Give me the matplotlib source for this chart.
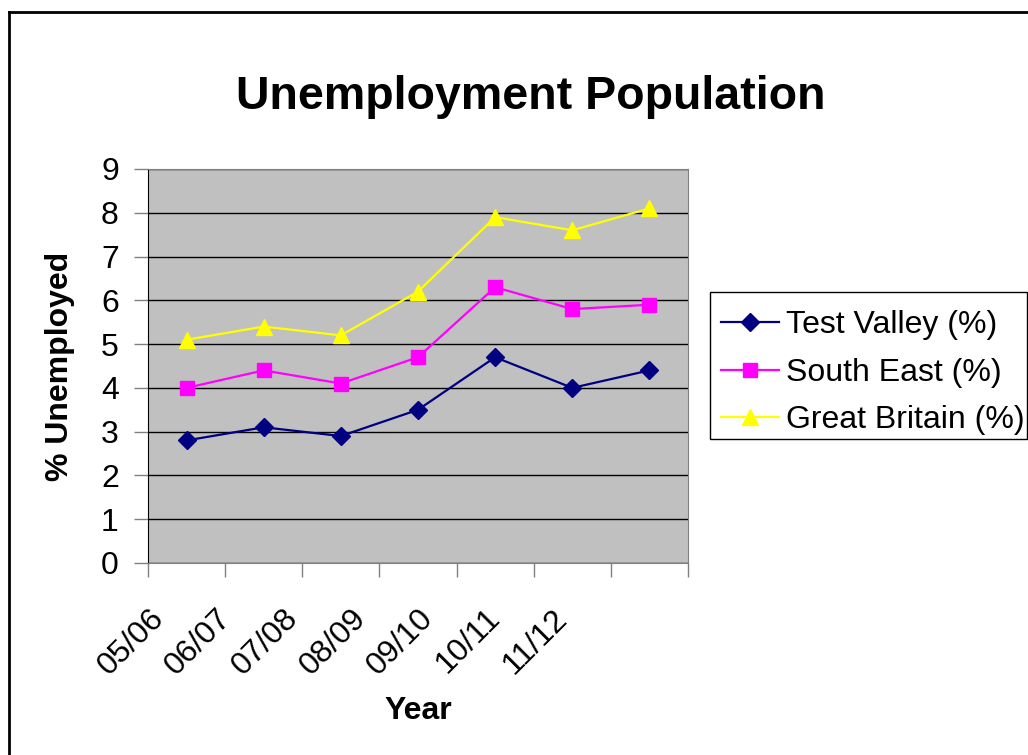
import numpy as np
import matplotlib
matplotlib.use("Agg")
import matplotlib.pyplot as plt
import matplotlib.transforms as mtransforms
from matplotlib.lines import Line2D
from matplotlib.patches import Rectangle

plt.rcParams['font.family'] = ['Liberation Sans', 'DejaVu Sans']

years = ['05/06', '06/07', '07/08', '08/09', '09/10', '10/11', '11/12']
test_valley = [2.8, 3.1, 2.9, 3.5, 4.7, 4.0, 4.4]
south_east = [4.0, 4.4, 4.1, 4.7, 6.3, 5.8, 5.9]
great_britain = [5.1, 5.4, 5.2, 6.2, 7.9, 7.6, 8.1]


def main():
    W, H = 1028, 755
    fig = plt.figure(figsize=(W / 100, H / 100), dpi=100)
    ax = fig.add_axes([148 / W, 1 - 563 / H, 540 / W, 394 / H])
    ax.set_facecolor('#C0C0C0')

    x = np.arange(len(years)) + 0.5
    ax.plot(x, test_valley, color='#000080', lw=1.6, marker='D', ms=9,
            label='Test Valley (%)', zorder=3)
    ax.plot(x, south_east, color='#FF00FF', lw=1.6, marker='s', ms=10,
            label='South East (%)', zorder=3)
    ax.plot(x, great_britain, color='#FFFF00', lw=1.6, marker='^', ms=11,
            label='Great Britain (%)', zorder=3)

    ax.set_xlim(0, len(years))
    ax.set_ylim(0, 9)
    ax.set_yticks(range(10))
    ax.yaxis.grid(True, color='black', lw=1.0)
    ax.set_axisbelow(True)

    ax.set_xticks(range(len(years) + 1))
    ax.set_xticklabels([])
    ax.set_xticks(x, minor=True)
    ax.set_xticklabels(years, minor=True, rotation=45, ha='right', va='center',
                       rotation_mode='anchor', fontsize=23)
    ax.tick_params(axis='x', which='minor', length=0, pad=0)
    # Excel packs the rotated labels a bit tighter than the categories
    for i, lbl in enumerate(ax.get_xticklabels(minor=True)):
        dx = (-27 - 9.9 * i) / 100
        offset = mtransforms.ScaledTranslation(dx, -51 / 100, fig.dpi_scale_trans)
        lbl.set_transform(lbl.get_transform() + offset)
    ax.tick_params(axis='x', which='major', length=10, width=1, color='#808080', direction='out')
    ax.tick_params(axis='y', length=10, width=1, color='#808080', labelsize=23, pad=11)

    for side in ['top', 'right', 'bottom']:
        ax.spines[side].set_color('#808080')
    ax.spines['left'].set_color('black')

    fig.text(60 / W, 1 - 366 / H, '% Unemployed', fontsize=23, fontweight='bold',
             rotation=90, ha='center', va='center')
    fig.text(418 / W, 1 - 711 / H, 'Year', fontsize=23, fontweight='bold',
             ha='center', va='center')
    fig.text(531 / W, 1 - 97 / H, 'Unemployment Population', fontsize=33.5,
             fontweight='bold', ha='center', va='center')

    # legend entries without frame, frame drawn separately to match the box
    fig.legend(loc='upper left', bbox_to_anchor=(710 / W, 1 - 299 / H),
               borderaxespad=0, fontsize=23, frameon=False,
               handlelength=1.8, borderpad=0.35, labelspacing=0.55,
               handletextpad=0.22)
    fig.add_artist(Rectangle((710 / W, 1 - 439 / H), 317 / W, 147 / H,
                             transform=fig.transFigure, fill=False,
                             edgecolor='black', lw=1.0))

    # outer chart border
    fig.add_artist(Line2D([9 / W, 9 / W], [0, 1 - 12 / H], color='black',
                          lw=2, transform=fig.transFigure))
    fig.add_artist(Line2D([9 / W, 1], [1 - 12 / H, 1 - 12 / H], color='black',
                          lw=2, transform=fig.transFigure))

    fig.savefig('out.png', dpi=100)


if __name__ == '__main__':
    main()
